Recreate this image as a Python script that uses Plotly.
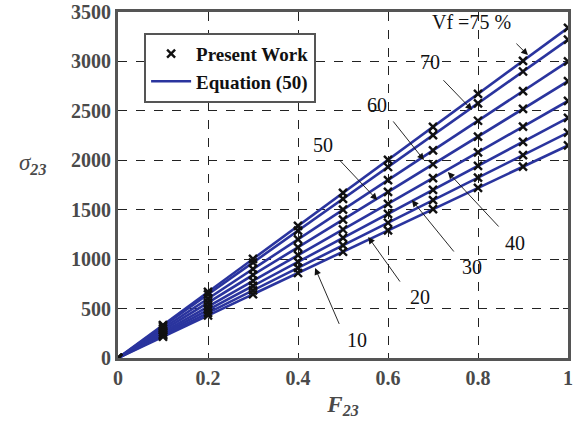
import plotly.graph_objects as go

# Fibre volume fractions (%) and the stress at F23 = 1 given by Equation (50)
vf = [10, 20, 30, 40, 50, 60, 70, 75]
eq_at_unit_load = [2150, 2280, 2430, 2600, 2800, 3000, 3220, 3340]

# Applied load levels and present-work stresses for each Vf
f23 = [0, 0.1, 0.2, 0.3, 0.4, 0.5, 0.6, 0.7, 0.8, 0.9, 1.0]
present_work = {
    10: [0, 215, 430, 645, 860, 1075, 1290, 1505, 1720, 1935, 2150],
    20: [0, 228, 456, 684, 912, 1140, 1368, 1596, 1824, 2052, 2280],
    30: [0, 243, 486, 729, 972, 1215, 1458, 1701, 1944, 2187, 2430],
    40: [0, 260, 520, 780, 1040, 1300, 1560, 1820, 2080, 2340, 2600],
    50: [0, 280, 560, 840, 1120, 1400, 1680, 1960, 2240, 2520, 2800],
    60: [0, 300, 600, 900, 1200, 1500, 1800, 2100, 2400, 2700, 3000],
    70: [0, 322, 644, 966, 1288, 1610, 1932, 2254, 2576, 2898, 3220],
    75: [0, 334, 668, 1002, 1336, 1670, 2004, 2338, 2672, 3006, 3340],
}

x_ticks = [0, 0.2, 0.4, 0.6, 0.8, 1]
x_tick_text = ["0", "0.2", "0.4", "0.6", "0.8", "1"]
y_ticks = [0, 500, 1000, 1500, 2000, 2500, 3000, 3500]

# Label text, label position and arrow tip / tail (data coords) for each curve
labels = ["10", "20", "30", "40", "50", "60", "70", "Vf =75 %"]
label_pos = [(0.531, 182), (0.671, 617), (0.787, 920), (0.882, 1163),
             (0.456, 2154), (0.576, 2559), (0.693, 2994), (0.786, 3399)]
arrow_tip = [(0.438, 910), (0.556, 1224), (0.653, 1598), (0.733, 1881),
             (0.576, 1598), (0.680, 2002), (0.787, 2508), (0.911, 3064)]
arrow_tail = [(0.493, 330), (0.629, 758), (0.749, 1062), (0.849, 1315),
              (0.489, 2018), (0.609, 2408), (0.720, 2825), (0.882, 3195)]

BLUE = "#2a349e"
FONT = "Liberation Serif"
GREY = "#4a4a4a"

fig = go.Figure()

for i, v in enumerate(vf):
    fig.add_trace(go.Scatter(
        x=[f23[0], f23[-1]], y=[0, eq_at_unit_load[i]], mode="lines",
        line=dict(color=BLUE, width=2.6),
        name="<b>Equation (50)</b>", legendgroup="eq", showlegend=(i == 0),
        legendrank=2,
    ))
for i, v in enumerate(vf):
    fig.add_trace(go.Scatter(
        x=f23, y=present_work[v], mode="markers",
        marker=dict(symbol="x-thin", size=8, line=dict(color="#111111", width=2.4)),
        name="<b>Present Work</b>", legendgroup="pw", showlegend=(i == 0),
        legendrank=1,
    ))

for text, (lx, ly), (tx, ty), (sx, sy) in zip(labels, label_pos, arrow_tip, arrow_tail):
    fig.add_annotation(x=lx, y=ly, text=text, showarrow=False,
                       font=dict(family=FONT, size=20, color="#111111"))
    fig.add_annotation(x=tx, y=ty, ax=sx, ay=sy, axref="x", ayref="y",
                       text="", showarrow=True, arrowhead=2, arrowsize=1.5,
                       arrowwidth=0.9, arrowcolor="#111111")

# Horizontal y-axis title
fig.add_annotation(xref="paper", yref="paper", x=-0.225, y=0.56,
                   text="<i>σ</i><sub><b><i>23</i></b></sub>",
                   showarrow=False, font=dict(family=FONT, size=23, color=GREY))

axis_common = dict(
    showline=True, linewidth=3, linecolor="#555555", mirror="ticks",
    ticks="inside", ticklen=5, tickwidth=1.2, tickcolor="#222222",
    showgrid=True, gridcolor="#222222", gridwidth=1, griddash="dash",
    zeroline=False, automargin=False,
    tickfont=dict(family=FONT, size=20, color=GREY, weight="bold"),
)

fig.update_xaxes(range=[0, 1], tickvals=x_ticks,
                 ticktext=[f"<b>{t}</b>" for t in x_tick_text],
                 title=dict(text="<b><i>F</i></b><sub><b><i>23</i></b></sub>",
                            font=dict(family=FONT, size=23, color=GREY), standoff=8),
                 **axis_common)
fig.update_yaxes(range=[0, 3500], tickvals=y_ticks,
                 ticktext=[f"<b>{t}</b>" for t in y_ticks],
                 **axis_common)

fig.update_layout(
    width=576, height=433,
    margin=dict(l=118, r=8, t=12, b=75),
    paper_bgcolor="white", plot_bgcolor="white",
    showlegend=True,
    legend=dict(x=0.058, y=0.94, xanchor="left", yanchor="top",
                bgcolor="white", bordercolor="#555555", borderwidth=2,
                font=dict(family=FONT, size=19, color="#111111"),
                tracegroupgap=0, itemwidth=40),
)

fig.write_html("out.html")
